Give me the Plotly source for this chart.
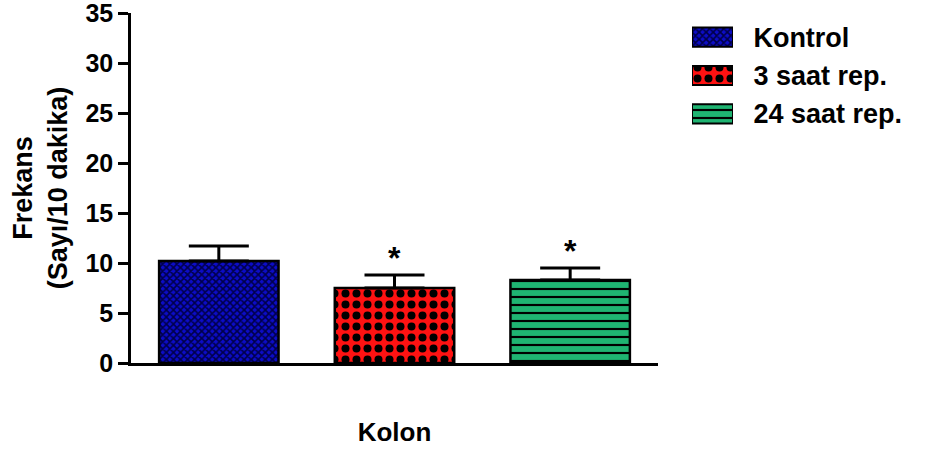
import plotly.graph_objects as go

# Mean frequency (count / 10 min) per group, with SEM and significance marks
groups = ["Kontrol", "3 saat rep.", "24 saat rep."]
frekans = [10.2, 7.5, 8.3]
sem = [1.5, 1.3, 1.2]
significance = ["", "*", "*"]
y_ticks = [0, 5, 10, 15, 20, 25, 30, 35]

# Fill styles per group
fill_colors = ["#0c0cc8", "#ff1212", "#1fb472"]
pattern_fg = ["#00004a", "#000000", "#000000"]
pattern_shapes = ["x", ".", "-"]
pattern_sizes = [5, 11, 8]
pattern_solidity = [0.55, 0.42, 0.27]

FONT = "Liberation Sans, Arial, sans-serif"
W, H = 925, 450
M_L, M_R, M_T, M_B = 131, 0, 13, 87
plot_w = W - M_L - M_R
plot_h = H - M_T - M_B


def group_marker(i, edge):
    return dict(
        color=fill_colors[i],
        line=dict(color="black", width=edge),
        pattern=dict(
            shape=pattern_shapes[i],
            size=pattern_sizes[i],
            solidity=pattern_solidity[i],
            fgcolor=pattern_fg[i],
            fgopacity=1,
            bgcolor=fill_colors[i],
            fillmode="overlay",
        ),
    )


fig = go.Figure()

for i, g in enumerate(groups):
    # Main bar with upward SEM whisker
    fig.add_trace(go.Bar(
        x=[g], y=[frekans[i]], width=0.68,
        marker=group_marker(i, 2.5),
        error_y=dict(type="data", array=[sem[i]], arrayminus=[0],
                     symmetric=False, color="black", thickness=3, width=30),
        xaxis="x", yaxis="y", showlegend=False, name=g,
    ))
    # Legend swatch in the small panel on the right
    fig.add_trace(go.Bar(
        y=[g], x=[1], orientation="h", width=0.5,
        marker=group_marker(i, 2),
        xaxis="x2", yaxis="y2", showlegend=False, name=g, hoverinfo="name",
    ))

for g, m, e, s in zip(groups, frekans, sem, significance):
    if s:
        fig.add_annotation(
            x=g, y=m + e, xref="x", yref="y", text=s, showarrow=False,
            yanchor="bottom", yshift=-3,
            font=dict(family=FONT, size=32, color="black", weight="bold"),
        )

fig.update_layout(
    width=W, height=H,
    margin=dict(l=M_L, r=M_R, t=M_T, b=M_B),
    paper_bgcolor="white", plot_bgcolor="white",
    barmode="overlay",
    font=dict(family=FONT, color="black"),
    xaxis=dict(
        domain=[0, 527 / plot_w], range=[-0.5, 2.5], type="category",
        categoryorder="array", categoryarray=groups,
        showline=True, linecolor="black", linewidth=2.5,
        ticks="", showticklabels=False, showgrid=False, zeroline=False,
        title=dict(text="Kolon", standoff=59,
                   font=dict(family=FONT, size=26, weight="bold")),
    ),
    yaxis=dict(
        domain=[0, 1], range=[0, 35.02], tickvals=y_ticks,
        showline=True, linecolor="black", linewidth=2.5,
        ticks="outside", ticklen=10, tickwidth=2.5, tickcolor="black",
        tickfont=dict(family=FONT, size=25, weight="bold"),
        ticklabeloverflow="allow",
        showgrid=False, zeroline=False,
        title=dict(text="Frekans<br>(Sayı/10 dakika)", standoff=10,
                   font=dict(family=FONT, size=27, weight="bold")),
    ),
    xaxis2=dict(
        domain=[(692 - M_L) / plot_w, (733 - M_L) / plot_w], range=[0, 1],
        anchor="y2", visible=False, fixedrange=True,
    ),
    yaxis2=dict(
        domain=[(H - M_B - 133) / plot_h, (H - M_B - 18) / plot_h],
        type="category", categoryorder="array", categoryarray=groups,
        range=[2.5, -0.5], anchor="x2", side="right",
        showline=False, showgrid=False, zeroline=False,
        ticks="outside", ticklen=14, tickcolor="rgba(0,0,0,0)",
        tickfont=dict(family=FONT, size=27, weight="bold"),
        fixedrange=True,
    ),
)

fig.write_html("out.html")
